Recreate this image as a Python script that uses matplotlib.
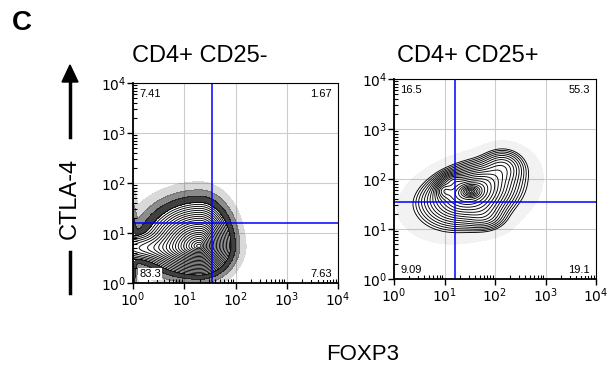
import numpy as np
import matplotlib.pyplot as plt

plt.rcParams['font.family'] = ['Liberation Sans', 'DejaVu Sans']

# populations in log10 space:
# (x, y, sd left, sd right, sd down, sd up, angle_deg, weight)
neg_pops = [(1.30, 0.74, 0.40, 0.23, 0.22, 0.33, 0, 1.00),
            (0.30, 0.70, 0.50, 0.50, 0.13, 0.14, 0, 0.12)]
neg_edge = [(0.00, 0.60, 0.04, 0.04, 0.45, 0.45, 0, 0.03)]
pos_pops = [(1.50, 1.75, 0.45, 0.45, 0.30, 0.24, 18, 1.00),
            (2.15, 2.25, 0.22, 0.22, 0.18, 0.18, 0, 0.20),
            (1.80, 1.25, 0.22, 0.22, 0.15, 0.20, 0, 0.15),
            (1.52, 1.75, 0.13, 0.13, 0.08, 0.08, 0, 0.35),
            (0.98, 1.78, 0.10, 0.10, 0.10, 0.10, 0, 0.30),
            (1.15, 1.98, 0.12, 0.12, 0.08, 0.08, 0, 0.20)]

# quadrant gates (FOXP3, CTLA-4)
neg_gate = (35, 16)
pos_gate = (16, 35)

neg_pct = ['7.41', '1.67', '83.3', '7.63']
pos_pct = ['16.5', '55.3', '9.09', '19.1']

decades = [0, 1, 2, 3, 4]

gx = np.linspace(0, 4, 500)
X, Y = np.meshgrid(gx, gx)


def density(pops):
    z = np.zeros_like(X)
    for cx, cy, sxl, sxr, syd, syu, ang, w in pops:
        t = np.deg2rad(ang)
        u = (X - cx) * np.cos(t) + (Y - cy) * np.sin(t)
        v = -(X - cx) * np.sin(t) + (Y - cy) * np.cos(t)
        sx = np.where(u < 0, sxl, sxr)
        sy = np.where(v < 0, syd, syu)
        z += w * np.exp(-0.5 * ((u / sx) ** 2 + (v / sy) ** 2))
    return z


def panel(ax, pops, extra, gate, pct, halo, halo_alpha, nlev, lo):
    z = density(pops)
    zmax = z.max()
    z = z / zmax
    zh = z + density(extra) / zmax
    # outlying events around the outer contour
    for (a, b), al in zip(zip(halo[:-1], halo[1:]), halo_alpha):
        ax.contourf(X, Y, zh, levels=[a, b], colors='black', alpha=al)
    # contour lines evenly spaced in radius
    r = np.linspace(np.sqrt(-2 * np.log(lo)), 0.12, nlev)
    levels = np.exp(-0.5 * r ** 2)
    ax.contour(X, Y, z, levels=levels, colors='black', linewidths=0.65)

    ax.axvline(np.log10(gate[0]), color='#0000ff', lw=1.1)
    ax.axhline(np.log10(gate[1]), color='#0000ff', lw=1.1)

    ax.set_xlim(0, 4)
    ax.set_ylim(0, 4)
    ax.set_xticks(decades)
    ax.set_yticks(decades)
    labels = [r'$10^{%d}$' % d for d in decades]
    ax.set_xticklabels(labels)
    ax.set_yticklabels(labels)
    minor = [d + np.log10(m) for d in decades[:-1] for m in range(2, 10)]
    ax.set_xticks(minor, minor=True)
    ax.set_yticks(minor, minor=True)
    ax.tick_params(which='major', direction='out', length=4, width=1, labelsize=10, pad=1)
    ax.tick_params(which='minor', direction='in', length=3, width=0.8)
    ax.grid(True, which='major', color='#cccccc', lw=0.8)
    ax.set_axisbelow(True)
    for s in ['top', 'right']:
        ax.spines[s].set_linewidth(0.8)
    for s in ['left', 'bottom']:
        ax.spines[s].set_linewidth(1.3)

    box = dict(facecolor='white', edgecolor='none', pad=0.5)
    kw = dict(fontsize=8, transform=ax.transAxes, bbox=box)
    ax.text(0.03, 0.97, pct[0], ha='left', va='top', **kw)
    ax.text(0.97, 0.97, pct[1], ha='right', va='top', **kw)
    ax.text(0.03, 0.02, pct[2], ha='left', va='bottom', **kw)
    ax.text(0.97, 0.02, pct[3], ha='right', va='bottom', **kw)


fig = plt.figure(figsize=(6.13, 3.72), dpi=100)
W, H = 613, 372
ax1 = fig.add_axes([133 / W, (H - 283) / H, 205 / W, 200 / H])
ax2 = fig.add_axes([394 / W, (H - 279) / H, 202 / W, 200 / H])

panel(ax1, neg_pops, neg_edge, neg_gate, neg_pct,
      [0.0005, 0.003, 0.01, 0.03], [0.15, 0.45, 0.75], 22, 0.03)
panel(ax2, pos_pops, [], pos_gate, pos_pct,
      [0.003, 0.026], [0.05], 22, 0.026)

fig.text(132 / W, 1 - 62 / H, 'CD4+ CD25-', fontsize=17, ha='left', va='baseline')
fig.text(397 / W, 1 - 62 / H, 'CD4+ CD25+', fontsize=17, ha='left', va='baseline')
fig.text(12 / W, 1 - 23 / H, 'C', fontsize=20, fontweight='bold', va='center')
fig.text(363 / W, 1 - 355 / H, 'FOXP3', fontsize=16, ha='center', va='center')
fig.text(70 / W, 1 - 198 / H, 'CTLA-4', fontsize=17, rotation=90,
         ha='center', va='center')
fig.add_artist(plt.Line2D([70 / W, 70 / W], [1 - 252 / H, 1 - 293 / H],
                          color='black', lw=2.5))
fig.add_artist(plt.Line2D([70 / W, 70 / W], [1 - 137 / H, 1 - 80 / H],
                          color='black', lw=2.5))
fig.patches.append(plt.Polygon([[62 / W, 1 - 82 / H], [78 / W, 1 - 82 / H],
                                [70 / W, 1 - 65 / H]], closed=True,
                               color='black', transform=fig.transFigure))

fig.savefig('out.png', dpi=100)
